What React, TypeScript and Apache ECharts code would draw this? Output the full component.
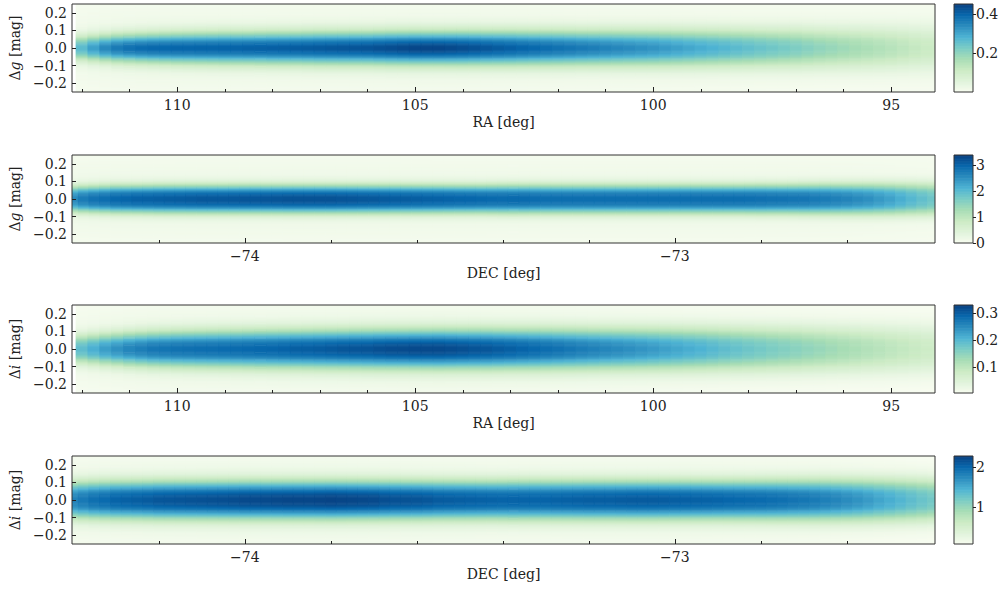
import React, { useEffect, useRef } from "react";
import * as echarts from "echarts";

// matplotlib GnBu colormap
const GNBU = ["#f7fcf0", "#e0f3db", "#ccebc5", "#a8ddb5", "#7bccc4", "#4eb3d3", "#2b8cbe", "#0868ac", "#084081"];

// Column positions (degrees)
const raDeg = [112, 111.75, 111.5, 111.25, 111, 110.75, 110.5, 110.25, 110, 109.75, 109.5, 109.25, 109, 108.75, 108.5, 108.25, 108, 107.75, 107.5, 107.25, 107, 106.75, 106.5, 106.25, 106, 105.75, 105.5, 105.25, 105, 104.75, 104.5, 104.25, 104, 103.75, 103.5, 103.25, 103, 102.75, 102.5, 102.25, 102, 101.75, 101.5, 101.25, 101, 100.75, 100.5, 100.25, 100, 99.75, 99.5, 99.25, 99, 98.75, 98.5, 98.25, 98, 97.75, 97.5, 97.25, 97, 96.75, 96.5, 96.25, 96, 95.75, 95.5, 95.25, 95, 94.75, 94.5, 94.25, 94];
const decDeg = [-74.4, -74.375, -74.35, -74.325, -74.3, -74.275, -74.25, -74.225, -74.2, -74.175, -74.15, -74.125, -74.1, -74.075, -74.05, -74.025, -74.0, -73.975, -73.95, -73.925, -73.9, -73.875, -73.85, -73.825, -73.8, -73.775, -73.75, -73.725, -73.7, -73.675, -73.65, -73.625, -73.6, -73.575, -73.55, -73.525, -73.5, -73.475, -73.45, -73.425, -73.4, -73.375, -73.35, -73.325, -73.3, -73.275, -73.25, -73.225, -73.2, -73.175, -73.15, -73.125, -73.1, -73.075, -73.05, -73.025, -73.0, -72.975, -72.95, -72.925, -72.9, -72.875, -72.85, -72.825, -72.8, -72.775, -72.75, -72.725, -72.7, -72.675, -72.65, -72.625, -72.6, -72.575, -72.55, -72.525, -72.5, -72.475, -72.45, -72.425, -72.4];

// Peak density along each column and band width (mag)
const gDensityRA = [0.264, 0.308, 0.343, 0.365, 0.378, 0.387, 0.392, 0.394, 0.396, 0.396, 0.398, 0.398, 0.4, 0.4, 0.403, 0.403, 0.405, 0.407, 0.409, 0.411, 0.414, 0.416, 0.418, 0.42, 0.422, 0.427, 0.431, 0.436, 0.44, 0.44, 0.44, 0.436, 0.431, 0.425, 0.418, 0.411, 0.405, 0.398, 0.392, 0.385, 0.378, 0.372, 0.365, 0.359, 0.352, 0.345, 0.339, 0.332, 0.326, 0.317, 0.308, 0.299, 0.29, 0.282, 0.273, 0.264, 0.255, 0.246, 0.238, 0.229, 0.22, 0.209, 0.198, 0.189, 0.18, 0.172, 0.163, 0.154, 0.145, 0.134, 0.123, 0.114, 0.106];
const gWidthRA = [0.05, 0.052, 0.054, 0.056, 0.057, 0.058, 0.059, 0.06, 0.061, 0.0615, 0.062, 0.0625, 0.063, 0.063, 0.063, 0.0635, 0.064, 0.064, 0.064, 0.0645, 0.065, 0.065, 0.065, 0.065, 0.065, 0.0655, 0.066, 0.066, 0.066, 0.066, 0.066, 0.0665, 0.067, 0.067, 0.067, 0.0675, 0.068, 0.068, 0.068, 0.0685, 0.069, 0.069, 0.069, 0.0695, 0.07, 0.0705, 0.071, 0.0715, 0.072, 0.0725, 0.073, 0.0735, 0.074, 0.0745, 0.075, 0.0755, 0.076, 0.0765, 0.077, 0.078, 0.079, 0.0795, 0.08, 0.081, 0.082, 0.083, 0.084, 0.085, 0.086, 0.087, 0.088, 0.089, 0.09];

const gDensityDEC = [2.57, 2.74, 2.84, 2.9, 2.97, 3.0, 3.04, 3.05, 3.07, 3.09, 3.1, 3.12, 3.14, 3.14, 3.14, 3.15, 3.17, 3.17, 3.17, 3.18, 3.2, 3.2, 3.2, 3.2, 3.2, 3.18, 3.17, 3.15, 3.14, 3.12, 3.1, 3.09, 3.07, 3.05, 3.04, 3.02, 3.0, 2.99, 2.97, 2.95, 2.94, 2.94, 2.94, 2.92, 2.9, 2.9, 2.9, 2.9, 2.9, 2.9, 2.9, 2.9, 2.9, 2.9, 2.9, 2.9, 2.9, 2.9, 2.9, 2.9, 2.9, 2.9, 2.9, 2.89, 2.87, 2.85, 2.84, 2.82, 2.81, 2.77, 2.74, 2.69, 2.64, 2.57, 2.51, 2.41, 2.31, 2.18, 2.05, 1.93, 1.82];
const gWidthDEC = [0.056, 0.057, 0.058, 0.059, 0.06, 0.06, 0.06, 0.0605, 0.061, 0.061, 0.061, 0.061, 0.061, 0.061, 0.061, 0.061, 0.061, 0.061, 0.061, 0.061, 0.061, 0.061, 0.061, 0.061, 0.061, 0.061, 0.061, 0.061, 0.061, 0.061, 0.061, 0.061, 0.061, 0.061, 0.061, 0.061, 0.061, 0.061, 0.061, 0.0615, 0.062, 0.062, 0.062, 0.062, 0.062, 0.062, 0.062, 0.062, 0.062, 0.062, 0.062, 0.062, 0.062, 0.062, 0.062, 0.062, 0.062, 0.062, 0.062, 0.062, 0.062, 0.062, 0.062, 0.0625, 0.063, 0.063, 0.063, 0.0635, 0.064, 0.0645, 0.065, 0.0655, 0.066, 0.0665, 0.067, 0.0675, 0.068, 0.0685, 0.069, 0.0695, 0.07];

const iDensityRA = [0.192, 0.211, 0.23, 0.243, 0.256, 0.264, 0.272, 0.275, 0.278, 0.28, 0.282, 0.283, 0.285, 0.286, 0.288, 0.29, 0.291, 0.294, 0.298, 0.299, 0.301, 0.304, 0.307, 0.309, 0.31, 0.314, 0.317, 0.318, 0.32, 0.32, 0.32, 0.317, 0.314, 0.31, 0.307, 0.302, 0.298, 0.293, 0.288, 0.283, 0.278, 0.272, 0.266, 0.261, 0.256, 0.251, 0.246, 0.24, 0.234, 0.227, 0.221, 0.214, 0.208, 0.2, 0.192, 0.186, 0.179, 0.173, 0.166, 0.16, 0.154, 0.147, 0.141, 0.134, 0.128, 0.122, 0.115, 0.109, 0.102, 0.096, 0.09, 0.083, 0.077];
const iWidthRA = [0.06, 0.0625, 0.065, 0.067, 0.069, 0.0705, 0.072, 0.073, 0.074, 0.0745, 0.075, 0.0755, 0.076, 0.0765, 0.077, 0.0775, 0.078, 0.078, 0.078, 0.0785, 0.079, 0.079, 0.079, 0.0795, 0.08, 0.08, 0.08, 0.08, 0.08, 0.0805, 0.081, 0.081, 0.081, 0.0815, 0.082, 0.082, 0.082, 0.0825, 0.083, 0.083, 0.083, 0.0835, 0.084, 0.084, 0.084, 0.0845, 0.085, 0.0855, 0.086, 0.0865, 0.087, 0.0875, 0.088, 0.0885, 0.089, 0.0895, 0.09, 0.0905, 0.091, 0.0915, 0.092, 0.0925, 0.093, 0.0935, 0.094, 0.0945, 0.095, 0.096, 0.097, 0.098, 0.098, 0.099, 0.1];

const iDensityDEC = [1.8, 1.87, 1.94, 1.98, 2.03, 2.05, 2.07, 2.09, 2.12, 2.13, 2.14, 2.15, 2.16, 2.17, 2.18, 2.19, 2.21, 2.21, 2.21, 2.22, 2.23, 2.23, 2.23, 2.24, 2.25, 2.24, 2.23, 2.22, 2.21, 2.18, 2.16, 2.15, 2.14, 2.12, 2.09, 2.08, 2.07, 2.06, 2.05, 2.04, 2.03, 2.03, 2.03, 2.03, 2.03, 2.04, 2.05, 2.06, 2.07, 2.07, 2.07, 2.08, 2.09, 2.09, 2.09, 2.08, 2.07, 2.06, 2.05, 2.04, 2.03, 2.01, 2.0, 1.99, 1.98, 1.96, 1.94, 1.91, 1.89, 1.86, 1.82, 1.78, 1.73, 1.68, 1.62, 1.55, 1.49, 1.42, 1.35, 1.28, 1.22];
const iWidthDEC = [0.078, 0.0785, 0.079, 0.0795, 0.08, 0.08, 0.08, 0.0805, 0.081, 0.081, 0.081, 0.081, 0.081, 0.081, 0.081, 0.081, 0.081, 0.081, 0.081, 0.081, 0.081, 0.081, 0.081, 0.081, 0.081, 0.081, 0.081, 0.081, 0.081, 0.081, 0.081, 0.081, 0.081, 0.081, 0.081, 0.081, 0.081, 0.081, 0.081, 0.081, 0.0815, 0.082, 0.082, 0.082, 0.082, 0.082, 0.082, 0.082, 0.082, 0.082, 0.082, 0.082, 0.082, 0.082, 0.082, 0.082, 0.082, 0.082, 0.082, 0.082, 0.082, 0.0825, 0.083, 0.083, 0.0835, 0.084, 0.0845, 0.085, 0.0855, 0.086, 0.0865, 0.087, 0.0875, 0.088, 0.0885, 0.089, 0.0895, 0.09, 0.0905, 0.091, 0.091];

// Ticks
const dmagTicks = [-0.2, -0.1, 0, 0.1, 0.2];
const raMajorTicks = [110, 105, 100, 95];
const raMinorTicks = [112, 111, 109, 108, 107, 106, 104, 103, 102, 101, 99, 98, 97, 96];
const decMajorTicks = [-74, -73];
const decMinorTicks = [-74.2, -73.8, -73.6, -73.4, -73.2, -72.8, -72.6];
const cbTicksGRA = [0.2, 0.4];
const cbTicksGDEC = [0, 1, 2, 3];
const cbTicksIRA = [0.1, 0.2, 0.3];
const cbTicksIDEC = [1, 2];

const FONT = "DejaVu Serif";
const INK = "#222";

const panels = [
  { top: 4, xs: raDeg, step: 0.25, peaks: gDensityRA, widths: gWidthRA, p: 2.2, wing: 0.07, wingW: 0.16, xMin: 94.08, xMax: 112.21, inverse: true, major: raMajorTicks, minor: raMinorTicks, xName: "RA [deg]", band: "g", cbMin: 0, cbMax: 0.45, cbTicks: cbTicksGRA, cbDec: 1 },
  { top: 155, xs: decDeg, step: 0.025, peaks: gDensityDEC, widths: gWidthDEC, p: 2.8, wing: 0.07, wingW: 0.15, xMin: -74.402, xMax: -72.395, inverse: false, major: decMajorTicks, minor: decMinorTicks, xName: "DEC [deg]", band: "g", cbMin: 0, cbMax: 3.4, cbTicks: cbTicksGDEC, cbDec: 0 },
  { top: 305, xs: raDeg, step: 0.25, peaks: iDensityRA, widths: iWidthRA, p: 2.4, wing: 0.1, wingW: 0.18, xMin: 94.08, xMax: 112.21, inverse: true, major: raMajorTicks, minor: raMinorTicks, xName: "RA [deg]", band: "i", cbMin: 0.005, cbMax: 0.33, cbTicks: cbTicksIRA, cbDec: 1 },
  { top: 456, xs: decDeg, step: 0.025, peaks: iDensityDEC, widths: iWidthDEC, p: 2.6, wing: 0.12, wingW: 0.19, xMin: -74.402, xMax: -72.395, inverse: false, major: decMajorTicks, minor: decMinorTicks, xName: "DEC [deg]", band: "i", cbMin: 0.07, cbMax: 2.28, cbTicks: cbTicksIDEC, cbDec: 0 },
];

const ROWS = 100;
const fmtNum = (v: number, d: number) => (v < 0 ? "\u2212" : "") + Math.abs(v).toFixed(d);

function buildHeat(pn: any) {
  const out: number[][] = [];
  const dy = 0.5 / ROWS;
  const n = Math.min(pn.xs.length, pn.peaks.length, pn.widths.length);
  for (let c = 0; c < n; c++) {
    const x = pn.xs[c];
    const s = pn.widths[c];
    const pk = pn.peaks[c];
    for (let r = 0; r < ROWS; r++) {
      const y0 = -0.25 + r * dy;
      const yc = y0 + dy / 2;
      const core = Math.exp(-0.5 * Math.pow(Math.abs(yc / s), pn.p));
      const wing = Math.exp(-0.5 * Math.pow(yc / pn.wingW, 2));
      const v = pk * ((1 - pn.wing) * core + pn.wing * wing);
      out.push([x - pn.step / 2, x + pn.step / 2, y0, y0 + dy, v]);
    }
  }
  return out;
}

function buildBar(pn: any) {
  const out: number[][] = [];
  const n = 120;
  const d = (pn.cbMax - pn.cbMin) / n;
  for (let k = 0; k < n; k++) {
    const v0 = pn.cbMin + k * d;
    out.push([0, 1, v0, v0 + d, v0 + d / 2]);
  }
  return out;
}

const renderRect = (params: any, api: any) => {
  const cs = params.coordSys;
  const a = api.coord([api.value(0), api.value(3)]);
  const b = api.coord([api.value(1), api.value(2)]);
  let x0 = Math.min(a[0], b[0]) - 0.3;
  let x1 = Math.max(a[0], b[0]) + 0.3;
  let y0 = Math.min(a[1], b[1]) - 0.3;
  let y1 = Math.max(a[1], b[1]) + 0.3;
  x0 = Math.max(x0, cs.x);
  x1 = Math.min(x1, cs.x + cs.width);
  y0 = Math.max(y0, cs.y);
  y1 = Math.min(y1, cs.y + cs.height);
  if (x1 <= x0 || y1 <= y0) return null;
  return {
    type: "rect",
    shape: { x: x0, y: y0, width: x1 - x0, height: y1 - y0 },
    style: { fill: api.visual("color") },
  };
};

export default function App() {
  const ref = useRef<HTMLDivElement>(null);
  useEffect(() => {
    if (!ref.current) return;
    const chart = echarts.init(ref.current, undefined, { renderer: "svg" });
    const grid: any[] = [];
    const xAxis: any[] = [];
    const yAxis: any[] = [];
    const series: any[] = [];
    const visualMap: any[] = [];
    panels.forEach((pn, k) => {
      grid.push({ left: 72, top: pn.top, width: 863, height: 88, show: true, borderColor: "#333", borderWidth: 1, backgroundColor: "transparent", z: 10 });
      grid.push({ left: 954, top: pn.top, width: 19, height: 88, show: true, borderColor: "#333", borderWidth: 1, backgroundColor: "transparent", z: 10 });
      xAxis.push({
        type: "value", gridIndex: 2 * k, position: "bottom", min: pn.xMin, max: pn.xMax, inverse: pn.inverse, z: 11,
        axisLine: { show: false, onZero: false }, splitLine: { show: false },
        axisTick: { show: true, inside: true, length: 5, customValues: pn.major, lineStyle: { color: INK, width: 1 } },
        axisLabel: { show: true, customValues: pn.major, margin: 6, fontFamily: FONT, fontSize: 14, color: INK, formatter: (v: number) => fmtNum(v, 0) },
        name: pn.xName, nameLocation: "middle", nameGap: 23,
        nameTextStyle: { fontFamily: FONT, fontSize: 14, color: INK },
      });
      xAxis.push({
        type: "value", gridIndex: 2 * k, position: "bottom", min: pn.xMin, max: pn.xMax, inverse: pn.inverse, z: 11,
        axisLine: { show: false, onZero: false }, splitLine: { show: false },
        axisTick: { show: true, inside: true, length: 3, customValues: pn.minor, lineStyle: { color: INK, width: 1 } },
        axisLabel: { show: false },
      });
      xAxis.push({ type: "value", gridIndex: 2 * k + 1, min: 0, max: 1, show: false, axisLine: { onZero: false } });
      yAxis.push({
        type: "value", gridIndex: 2 * k, position: "left", min: -0.25, max: 0.25, z: 11,
        axisLine: { show: false, onZero: false }, splitLine: { show: false },
        axisTick: { show: true, inside: true, length: 4, customValues: dmagTicks, lineStyle: { color: INK, width: 1 } },
        axisLabel: { show: true, customValues: dmagTicks, margin: 5, fontFamily: FONT, fontSize: 14, color: INK, formatter: (v: number) => fmtNum(v, 1) },
        name: "\u0394{it|" + pn.band + "} [mag]", nameLocation: "middle", nameGap: 46,
        nameTextStyle: { fontFamily: FONT, fontSize: 14, color: INK, rich: { it: { fontFamily: FONT, fontStyle: "italic", fontSize: 14, color: INK } } },
      });
      yAxis.push({
        type: "value", gridIndex: 2 * k + 1, position: "right", min: pn.cbMin, max: pn.cbMax, z: 11,
        axisLine: { show: false, onZero: false }, splitLine: { show: false },
        axisTick: { show: true, inside: false, length: 3, customValues: pn.cbTicks, lineStyle: { color: INK, width: 1 } },
        axisLabel: { show: true, customValues: pn.cbTicks, margin: 3, fontFamily: FONT, fontSize: 14, color: INK, formatter: (v: number) => fmtNum(v, pn.cbDec) },
      });
      series.push({
        type: "custom", xAxisIndex: 3 * k, yAxisIndex: 2 * k, data: buildHeat(pn),
        encode: { x: [0, 1], y: [2, 3] }, renderItem: renderRect, clip: true, silent: true, z: 2,
      });
      series.push({
        type: "custom", xAxisIndex: 3 * k + 2, yAxisIndex: 2 * k + 1, data: buildBar(pn),
        encode: { x: [0, 1], y: [2, 3] }, renderItem: renderRect, clip: true, silent: true, z: 2,
      });
      visualMap.push({
        type: "continuous", show: false, seriesIndex: [2 * k, 2 * k + 1], dimension: 4,
        min: pn.cbMin, max: pn.cbMax, inRange: { color: GNBU },
      });
    });
    chart.setOption({ animation: false, backgroundColor: "#fff", grid, xAxis, yAxis, series, visualMap });
    return () => chart.dispose();
  }, []);
  return <div ref={ref} style={{ position: "fixed", left: 0, top: 0, width: 1005, height: 590, background: "#fff" }} />;
}
